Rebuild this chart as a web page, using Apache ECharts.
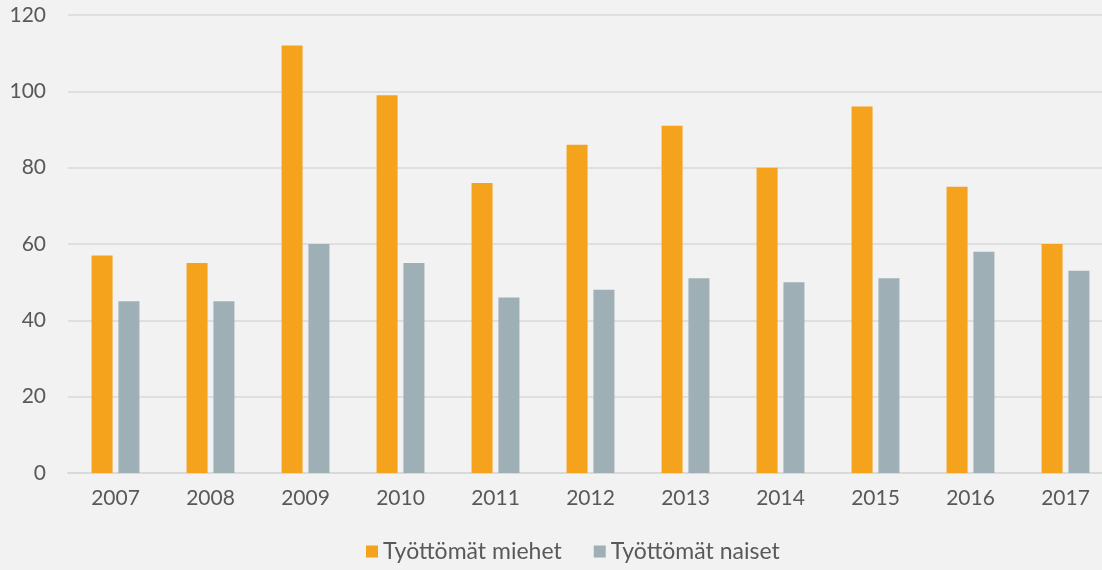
<!DOCTYPE html>
<html><head><meta charset="utf-8">
<script src="https://cdn.jsdelivr.net/npm/echarts@6/dist/echarts.min.js"></script>
<style>html,body{margin:0;padding:0;background:#F2F2F2;}#c{width:1102px;height:570px;}</style>
</head><body><div id="c"></div>
<script>
const categories = ['2007','2008','2009','2010','2011','2012','2013','2014','2015','2016','2017'];
const seriesNames = ['Työttömät miehet','Työttömät naiset'];
const men = [57,55,112,99,76,86,91,80,96,75,60];
const women = [45,45,60,55,46,48,51,50,51,58,53];
const FONT = 'Lato';
const chart = echarts.init(document.getElementById('c'));
chart.setOption({
  backgroundColor:'#F2F2F2',
  animation:false,
  textStyle:{fontFamily:FONT},
  grid:{left:68,top:15,width:1045,height:458,containLabel:false,outerBoundsMode:'none'},
  legend:{bottom:2,left:361,itemWidth:12,itemHeight:12,itemGap:32,icon:'rect',
    textStyle:{fontFamily:FONT,fontSize:23,color:'#595959'},data:seriesNames},
  xAxis:{type:'category',data:categories,
    axisLine:{lineStyle:{color:'#D9D9D9',width:2}},axisTick:{show:false},
    axisLabel:{fontFamily:FONT,fontSize:21,color:'#595959',margin:15}},
  yAxis:{type:'value',min:0,max:120,interval:20,
    axisLine:{show:false},axisTick:{show:false},
    splitLine:{lineStyle:{color:'#D9D9D9',width:1.5}},
    axisLabel:{fontFamily:FONT,fontSize:21,color:'#595959',margin:22}},
  series:[
    {name:seriesNames[0],type:'bar',data:men,barWidth:21,barGap:'28%',itemStyle:{color:'#F5A21D'}},
    {name:seriesNames[1],type:'bar',data:women,barWidth:21,itemStyle:{color:'#9EAFB5'}}
  ]
});
</script></body></html>
